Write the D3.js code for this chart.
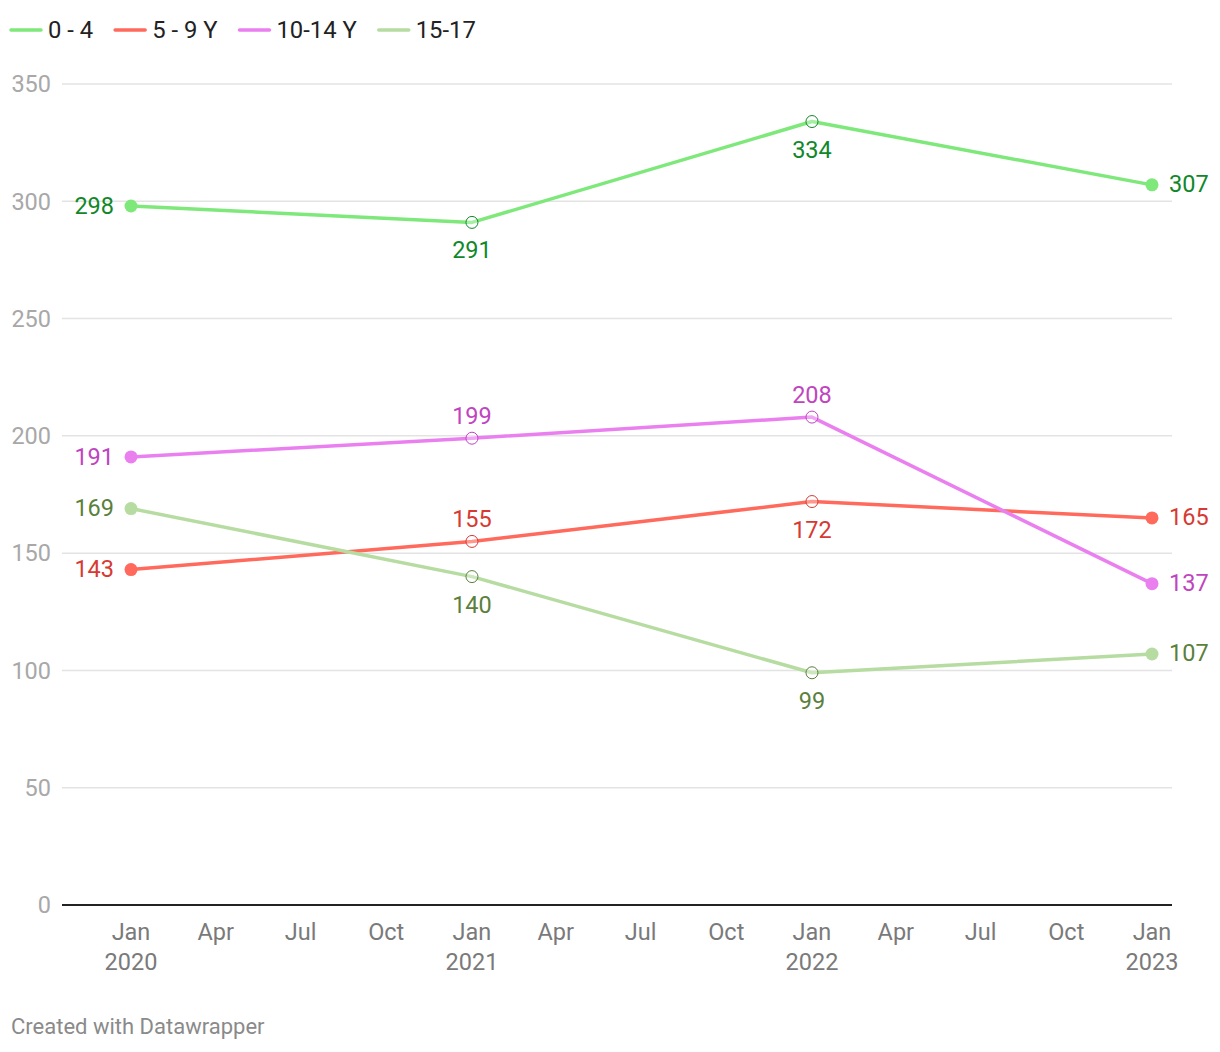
<!DOCTYPE html>
<html><head><meta charset="utf-8">
<script src="https://cdn.jsdelivr.net/npm/d3@7"></script>
<style>body{margin:0;background:#fff;font-family:Roboto,sans-serif}</style>
</head><body>
<svg id="c" width="1220" height="1052"></svg>
<script>
const dates = ["2020-01-01","2021-01-01","2022-01-01","2023-01-01"];
const seriesNames = ["0 - 4","5 - 9 Y","10-14 Y","15-17"];
const v0_4 = [298,291,334,307];
const v5_9 = [143,155,172,165];
const v10_14 = [191,199,208,137];
const v15_17 = [169,140,99,107];
const yTicks = [0,50,100,150,200,250,300,350];
const monthLabels = ["Jan","Apr","Jul","Oct"];
// label placement per point: 'a' above, 'b' below
const labelPos = [
  ["l","b","b","r"],
  ["l","a","b","r"],
  ["l","a","a","r"],
  ["l","b","b","r"]
];
const lineColors = ["#7ee87b","#ff6a5c","#ea80f0","#b6dca2"];
const textColors = ["#10882a","#d63a33","#bf45c0","#5b7f3c"];

const svg = d3.select("#c");
const parse = d3.timeParse("%Y-%m-%d");
const X = d3.scaleTime().domain([parse(dates[0]), parse(dates[3])]).range([131,1152]);
const Y = d3.scaleLinear().domain([0,350]).range([905,84]);

// grid
const g = svg.append("g");
yTicks.forEach(t=>{
  if(t>0) g.append("line").attr("x1",62).attr("x2",1172).attr("y1",Y(t)).attr("y2",Y(t)).attr("stroke","#e3e3e3").attr("stroke-width",1.5);
  g.append("text").attr("x",51).attr("y",Y(t)).attr("dy","0.35em").attr("text-anchor","end")
   .attr("font-size",23.5).attr("fill","#a8a8a8").text(t);
});
g.append("line").attr("x1",62).attr("x2",1172).attr("y1",Y(0)).attr("y2",Y(0)).attr("stroke","#222").attr("stroke-width",2);

// x ticks
const ticks = d3.timeMonth.every(3).range(parse(dates[0]), d3.timeDay.offset(parse(dates[3]),1));
ticks.forEach(d=>{
  const t = g.append("text").attr("x",X(d)).attr("y",940).attr("text-anchor","middle").attr("font-size",23.5).attr("fill","#7a7a7a");
  t.append("tspan").attr("x",X(d)).text(monthLabels[d.getMonth()/3]);
  if(d.getMonth()===0) t.append("tspan").attr("x",X(d)).attr("dy",30).text(d.getFullYear());
});

const all = [v0_4,v5_9,v10_14,v15_17];
const line = d3.line().x((d,i)=>X(parse(dates[i]))).y(d=>Y(d));
all.forEach((vals,s)=>{
  svg.append("path").attr("d",line(vals)).attr("fill","none").attr("stroke",lineColors[s]).attr("stroke-width",3.5).attr("stroke-linejoin","round");
});
all.forEach((vals,s)=>{
  vals.forEach((v,i)=>{
    const cx = X(parse(dates[i])), cy = Y(v);
    const end = (i===0||i===vals.length-1);
    if(end) svg.append("circle").attr("cx",cx).attr("cy",cy).attr("r",6.5).attr("fill",lineColors[s]);
    else svg.append("circle").attr("cx",cx).attr("cy",cy).attr("r",6).attr("fill","#fff").attr("fill-opacity",0.3).attr("stroke",textColors[s]).attr("stroke-width",1);
    const p = labelPos[s][i];
    const t = svg.append("text").attr("font-size",23.5).attr("fill",textColors[s]).text(v);
    if(p==="l") t.attr("x",cx-17).attr("y",cy).attr("dy","0.33em").attr("text-anchor","end");
    else if(p==="r") t.attr("x",cx+17).attr("y",cy).attr("dy","0.3em").attr("text-anchor","start");
    else if(p==="a") t.attr("x",cx).attr("y",cy-14).attr("text-anchor","middle");
    else t.attr("x",cx).attr("y",cy+36).attr("text-anchor","middle");
  });
});

// legend
let lx = 11;
seriesNames.forEach((n,s)=>{
  svg.append("line").attr("x1",lx).attr("x2",lx+30).attr("y1",30).attr("y2",30).attr("stroke",lineColors[s]).attr("stroke-width",3.5).attr("stroke-linecap","round");
  const t = svg.append("text").attr("x",lx+37).attr("y",30).attr("dy","0.35em").attr("font-size",23.8).attr("fill","#222").text(n);
  lx += 37 + t.node().getComputedTextLength() + 22;
});

svg.append("text").attr("x",11).attr("y",1034).attr("font-size",22).attr("fill","#8a8a8a").text("Created with Datawrapper");
</script>
</body></html>
